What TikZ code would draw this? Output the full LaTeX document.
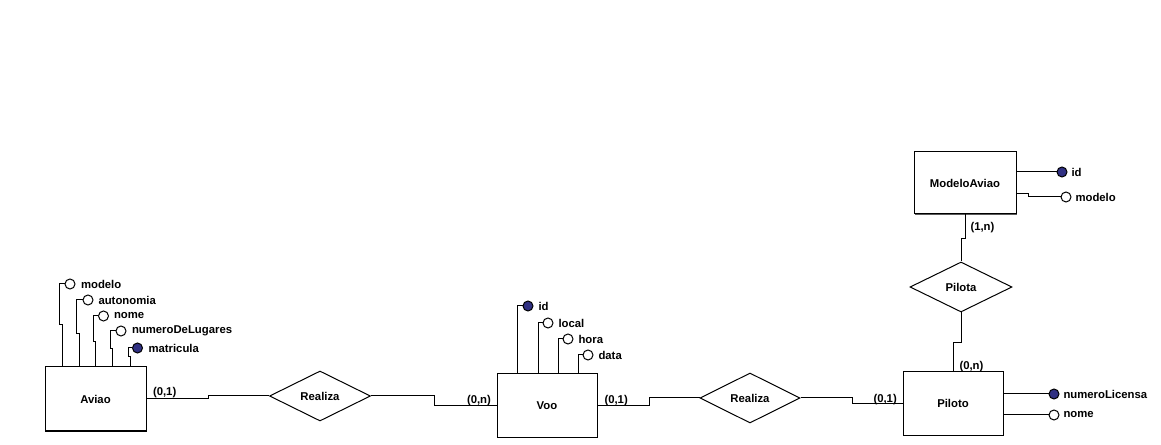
\documentclass[tikz,border=0pt]{standalone}
\usepackage{fontspec}
\setmainfont{Liberation Sans}
\usetikzlibrary{shapes.geometric,shadows}
\definecolor{keyblue}{RGB}{48,48,130}
\begin{document}
\begin{tikzpicture}[x=0.75pt,y=-0.75pt,line width=0.75pt,
  every node/.style={font=\fontsize{8.5}{10}\selectfont\bfseries},
  entity/.style={draw, fill=white, inner sep=0pt,
    general shadow={fill=black!65, shadow xshift=1.1pt, shadow yshift=-1.1pt}},
  rel/.style={diamond, draw, fill=white, inner sep=0pt, aspect=2},
  attr/.style={circle, draw, fill=white, minimum size=7.5pt, inner sep=0pt},
  keyattr/.style={attr, fill=keyblue},
  lbl/.style={anchor=west, inner sep=0pt}]
\fill[white] (0,0) rectangle (1161,445);
\useasboundingbox (0,0) rectangle (1161,445);

% entities
\node[entity, minimum width=75.75pt, minimum height=48pt] (aviao) at (95.5,399) {Aviao};
\node[entity, minimum width=75pt, minimum height=47.25pt] (voo) at (547,405.5) {Voo};
\node[entity, minimum width=75pt, minimum height=47.25pt] (piloto) at (953,403.5) {Piloto};
\node[entity, minimum width=76.5pt, minimum height=46.5pt] (modelo) at (965,183) {ModeloAviao};

% relationships
\node[rel, minimum width=75.75pt, minimum height=37.5pt] (r1) at (320,396) {Realiza};
\node[rel, minimum width=75pt, minimum height=37.5pt] (r2) at (750,398) {Realiza};
\node[rel, minimum width=76.5pt, minimum height=37.5pt] (pilota) at (961,287) {Pilota};

% connectors
\draw (aviao.east) -- (208,399) -- (208,396) -- (r1.west);
\draw (r1.east) -- (434,396) -- (434,405.5) -- (voo.west);
\draw (voo.east) -- (649,405.5) -- (649,398) -- (r2.west);
\draw (r2.east) -- (852,398) -- (852,403.5) -- (piloto.west);
\draw (pilota.south) -- (961,343) -- (953,343) -- (piloto.north);
\draw (modelo.south) -- (965,239) -- (961,239) -- (pilota.north);

% cardinalities
\node[lbl] (c1) at (152.5,393) {(0,1)};
\node[lbl] (c2) at (466.5,400.5) {(0,n)};
\node[lbl] (c3) at (604,400.5) {(0,1)};
\node[lbl] (c4) at (873,399.5) {(0,1)};
\node[lbl] (c5) at (959,366.5) {(0,n)};
\node[lbl] (c6) at (970,228) {(1,n)};

% Aviao attributes
\node[attr] (a1) at (70,284) {};
\node[attr] (a2) at (88,300) {};
\node[attr] (a3) at (103.5,316) {};
\node[attr] (a4) at (121,331) {};
\node[keyattr] (a5) at (137.5,348) {};
\draw (a1.west) -| (59,325) -| (62,367);
\draw (a2.west) -| (76,334) -| (79,367);
\draw (a3.west) -| (93,342) -| (95,367);
\draw (a4.west) -| (110,349) -| (112,367);
\draw (a5.west) -| (128,357) -| (130,367);
\node[lbl] (ta1) at (80.5,284) {modelo};
\node[lbl] (ta2) at (98,300) {autonomia};
\node[lbl] (ta3) at (113.5,316) {nome};
\node[lbl] (ta4) at (131.5,331) {numeroDeLugares};
\node[lbl] (ta5) at (148,348) {matricula};

% Voo attributes
\node[keyattr] (b1) at (528,306) {};
\node[attr] (b2) at (548,323) {};
\node[attr] (b3) at (568,339) {};
\node[attr] (b4) at (588,355) {};
\draw (b1.west) -| (517,374);
\draw (b2.west) -| (538,374);
\draw (b3.west) -| (558,374);
\draw (b4.west) -| (578,374);
\node[lbl] (tb1) at (538,306) {id};
\node[lbl] (tb2) at (558,323) {local};
\node[lbl] (tb3) at (578,339) {hora};
\node[lbl] (tb4) at (598,355) {data};

% ModeloAviao attributes
\node[keyattr] (m1) at (1062,172) {};
\node[attr] (m2) at (1066,197) {};
\draw (modelo.east |- m1.west) -- (m1.west);
\draw (1016,194) -- (1028,194) -- (1028,197) -- (m2.west);
\node[lbl] (tm1) at (1071,172) {id};
\node[lbl] (tm2) at (1075,197) {modelo};

% Piloto attributes
\node[keyattr] (p1) at (1054,394) {};
\node[attr] (p2) at (1054,415) {};
\draw (piloto.east |- p1.west) -- (p1.west);
\draw (piloto.east |- p2.west) -- (p2.west);
\node[lbl] (tp1) at (1063,394) {numeroLicensa};
\node[lbl] (tp2) at (1063,415) {nome};
\end{tikzpicture}
\end{document}
